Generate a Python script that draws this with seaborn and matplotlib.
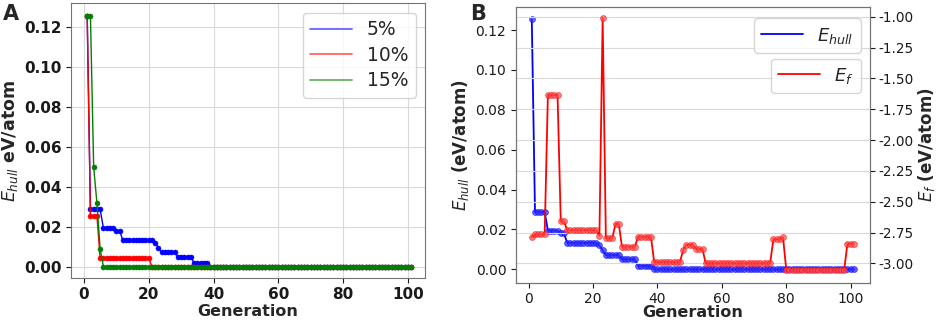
import matplotlib
matplotlib.use("Agg")
import matplotlib.pyplot as plt
import seaborn as sns
import numpy as np
import pandas as pd
from matplotlib.lines import Line2D

# ---------------- data ----------------
generations = list(range(1, 102))

# Panel A: E_hull per generation for three mutation rates
hull_5 = [0.1255,
          0.0287, 0.0287, 0.0287, 0.0287,
          0.0194, 0.0194, 0.0194, 0.0194,
          0.0180, 0.0180,
          0.0133, 0.0133, 0.0133, 0.0133, 0.0133, 0.0133, 0.0133, 0.0133, 0.0133, 0.0133,
          0.0120, 0.0096,
          0.0072, 0.0072, 0.0072, 0.0072, 0.0072,
          0.0050, 0.0050, 0.0050, 0.0050, 0.0050,
          0.0017, 0.0017, 0.0017, 0.0017, 0.0017,
          0, 0, 0, 0, 0, 0, 0, 0, 0, 0,
          0, 0, 0, 0, 0, 0, 0, 0, 0, 0,
          0, 0, 0, 0, 0, 0, 0, 0, 0, 0,
          0, 0, 0, 0, 0, 0, 0, 0, 0, 0,
          0, 0, 0, 0, 0, 0, 0, 0, 0, 0,
          0, 0, 0, 0, 0, 0, 0, 0, 0, 0,
          0, 0, 0]

hull_10 = [0.1255,
           0.0255, 0.0255, 0.0255,
           0.0043, 0.0043, 0.0043, 0.0043, 0.0043, 0.0043, 0.0043, 0.0043,
           0.0043, 0.0043, 0.0043, 0.0043, 0.0043, 0.0043, 0.0043, 0.0043,
           0, 0, 0, 0, 0, 0, 0, 0, 0, 0,
           0, 0, 0, 0, 0, 0, 0, 0, 0, 0,
           0, 0, 0, 0, 0, 0, 0, 0, 0, 0,
           0, 0, 0, 0, 0, 0, 0, 0, 0, 0,
           0, 0, 0, 0, 0, 0, 0, 0, 0, 0,
           0, 0, 0, 0, 0, 0, 0, 0, 0, 0,
           0, 0, 0, 0, 0, 0, 0, 0, 0, 0,
           0, 0, 0, 0, 0, 0, 0, 0, 0, 0,
           0]

hull_15 = [0.1255, 0.1255, 0.0497, 0.0320, 0.0088,
           0, 0, 0, 0, 0, 0, 0, 0, 0, 0,
           0, 0, 0, 0, 0, 0, 0, 0, 0, 0,
           0, 0, 0, 0, 0, 0, 0, 0, 0, 0,
           0, 0, 0, 0, 0, 0, 0, 0, 0, 0,
           0, 0, 0, 0, 0, 0, 0, 0, 0, 0,
           0, 0, 0, 0, 0, 0, 0, 0, 0, 0,
           0, 0, 0, 0, 0, 0, 0, 0, 0, 0,
           0, 0, 0, 0, 0, 0, 0, 0, 0, 0,
           0, 0, 0, 0, 0, 0, 0, 0, 0, 0,
           0, 0, 0, 0, 0, 0]

series_labels_A = ["5%", "10%", "15%"]
series_colors_A = ["blue", "red", "green"]

# Panel B: E_hull (left axis) and E_f (right axis) for the 5% run
hull_B = hull_5
ef_B = [-2.790,
        -2.765, -2.765, -2.765, -2.765,
        -1.635, -1.635, -1.635, -1.635,
        -2.660, -2.660,
        -2.730, -2.730, -2.730, -2.730, -2.730, -2.730, -2.730, -2.730, -2.730, -2.730,
        -2.775, -1.010,
        -2.795, -2.795, -2.795,
        -2.680, -2.680,
        -2.865, -2.865, -2.865, -2.865, -2.865,
        -2.785, -2.785, -2.785, -2.785, -2.785,
        -2.990, -2.990, -2.990, -2.990, -2.990, -2.990, -2.990, -2.990, -2.990,
        -2.890,
        -2.850, -2.850, -2.850,
        -2.885, -2.885, -2.885,
        -3.000, -3.000, -3.000, -3.000, -3.000, -3.000, -3.000, -3.000, -3.000, -3.000,
        -3.000, -3.000, -3.000, -3.000, -3.000, -3.000, -3.000, -3.000, -3.000, -3.000,
        -3.000,
        -2.805, -2.805, -2.805,
        -2.790,
        -3.050, -3.050, -3.050, -3.050, -3.050, -3.050, -3.050, -3.050, -3.050, -3.050,
        -3.050, -3.050, -3.050, -3.050, -3.050, -3.050, -3.050, -3.050, -3.050,
        -2.840, -2.840, -2.840]

x_ticks = [0, 20, 40, 60, 80, 100]
hull_ticks = [0.00, 0.02, 0.04, 0.06, 0.08, 0.10, 0.12]
ef_ticks = [-3.00, -2.75, -2.50, -2.25, -2.00, -1.75, -1.50, -1.25, -1.00]

# ---------------- style ----------------
sns.set_style("whitegrid", {
    "axes.edgecolor": "0.45",
    "grid.color": "0.85",
    "xtick.bottom": True,
    "ytick.left": True,
    "xtick.color": "0.1",
    "ytick.color": "0.1",
    "axes.linewidth": 1.0,
})
plt.rcParams["font.family"] = ["DejaVu Sans"]
plt.rcParams["xtick.major.size"] = 3.5
plt.rcParams["ytick.major.size"] = 3.5

fig = plt.figure(figsize=(9.41, 3.2), dpi=100)
axA = fig.add_axes([71 / 941, 1 - 278.3 / 320, 354 / 941, 275 / 320])
axB = fig.add_axes([516 / 941, 1 - 282.7 / 320, 354 / 941, 276 / 320])

# ---------------- Panel A ----------------
dfA = pd.DataFrame({"Generation": generations, "5%": hull_5, "10%": hull_10, "15%": hull_15})
for lab, col in zip(series_labels_A, series_colors_A):
    sns.lineplot(data=dfA, x="Generation", y=lab, ax=axA, color=col, marker="o",
                 markersize=3.6, markeredgewidth=0.4, markeredgecolor=col,
                 linewidth=1.0, legend=False)

axA.set_xticks(x_ticks)
axA.set_yticks(hull_ticks)
axA.set_ylim(-0.0058, 0.1317)
axA.set_xlim(-4.0, 105.3)
axA.yaxis.set_major_formatter(matplotlib.ticker.FormatStrFormatter("%.2f"))
axA.tick_params(axis="both", labelsize=11, pad=3)
for t in axA.get_xticklabels() + axA.get_yticklabels():
    t.set_fontweight("bold")
axA.set_xlabel("Generation", fontsize=11.5, fontweight="bold", labelpad=1)
axA.set_ylabel("$E_{hull}$ eV/atom", fontsize=12.5, fontweight="bold", labelpad=3)
handlesA = [Line2D([], [], color=c, lw=1.3, alpha=0.6) for c in series_colors_A]
axA.legend(handlesA, series_labels_A, loc="upper right", fontsize=13.5,
           handlelength=2.2, borderpad=0.4, labelspacing=0.35, framealpha=0.8)

# ---------------- Panel B ----------------
dfB = pd.DataFrame({"Generation": generations, "Ehull": hull_B, "Ef": ef_B})
sns.lineplot(data=dfB, x="Generation", y="Ehull", ax=axB, color="blue", marker="o",
             markersize=4.2, markerfacecolor=(0.2, 0.2, 1.0, 0.75),
             markeredgecolor=(0.0, 0.0, 1.0, 0.65), markeredgewidth=0.6,
             linewidth=1.3, legend=False)
axB.grid(False)
axB.set_xticks(x_ticks)
axB.set_yticks(hull_ticks)
axB.set_xlim(-3.9, 106.0)
axB.set_ylim(-0.0067, 0.1317)
axB.yaxis.set_major_formatter(matplotlib.ticker.FormatStrFormatter("%.2f"))
axB.tick_params(axis="both", labelsize=10)
axB.set_xlabel("Generation", fontsize=11.5, fontweight="bold", labelpad=-1)
axB.set_ylabel("$E_{hull}$ (eV/atom)", fontsize=12, fontweight="bold", labelpad=3)

axB2 = axB.twinx()
sns.lineplot(data=dfB, x="Generation", y="Ef", ax=axB2, color="red", marker="o",
             markersize=4.2, markerfacecolor=(1.0, 0.3, 0.3, 0.7),
             markeredgecolor=(1.0, 0.0, 0.0, 0.6), markeredgewidth=0.6,
             linewidth=1.3, legend=False)
axB2.set_ylim(-3.157, -0.919)
axB2.set_yticks(ef_ticks)
axB2.yaxis.set_major_formatter(matplotlib.ticker.FormatStrFormatter("%.2f"))
axB2.grid(True, axis="y")
axB2.grid(False, axis="x")
axB2.tick_params(axis="y", labelsize=9.8, right=True, length=3.5, pad=2.5)
axB2.set_ylabel("$E_f$ (eV/atom)", fontsize=12, fontweight="bold", labelpad=2)
axB2.set_xlabel("")

legH = axB2.legend([Line2D([], [], color="blue", lw=1.3)], ["$E_{hull}$"],
                   loc="upper right", bbox_to_anchor=(1.0, 0.99), fontsize=13,
                   handlelength=2.3, borderpad=0.4, framealpha=0.8)
axB2.add_artist(legH)
axB2.legend([Line2D([], [], color="red", lw=1.3)], ["$E_f$"],
            loc="upper right", bbox_to_anchor=(1.0, 0.845), fontsize=13,
            handlelength=2.3, borderpad=0.4, framealpha=0.8)

# panel letters
fig.text(3 / 941, 1 - 4 / 320, "A", fontsize=15, fontweight="bold", va="top", ha="left")
fig.text(470 / 941, 1 - 4 / 320, "B", fontsize=15, fontweight="bold", va="top", ha="left")

fig.savefig("out.png", dpi=100)
